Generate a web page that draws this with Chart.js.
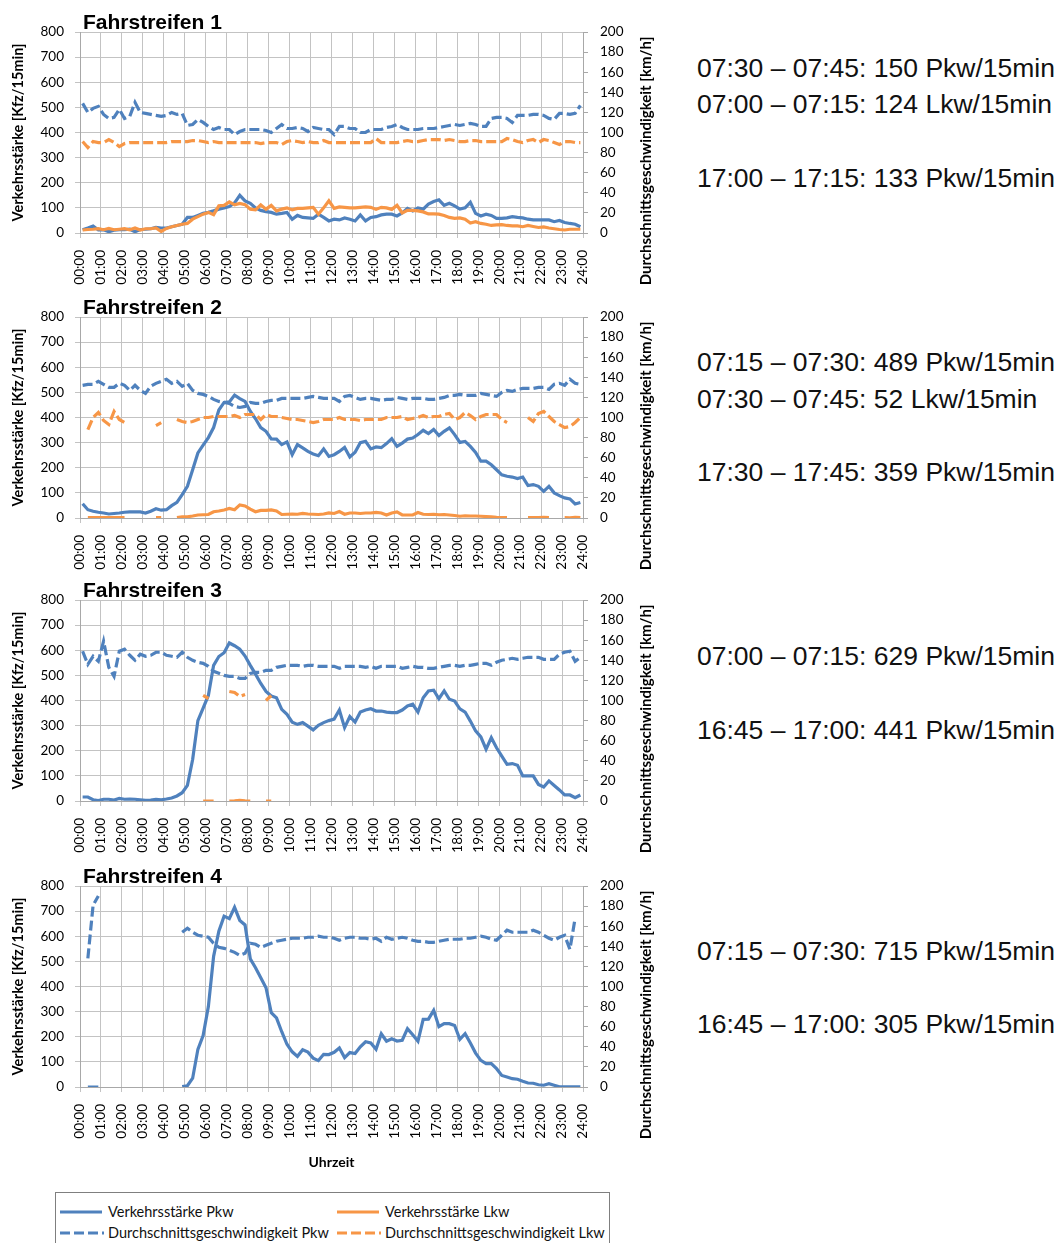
<!DOCTYPE html>
<html>
<head>
<meta charset="utf-8">
<script src="https://cdn.jsdelivr.net/npm/chart.js@4.4.1/dist/chart.umd.min.js"></script>
<style>
  body { margin: 0; width: 1061px; height: 1243px; overflow: hidden; background: #fff; position: relative; }
  canvas { position: absolute; left: 0; }
  .note { position: absolute; left: 697px; font: 26.5px "Liberation Sans", Arial, sans-serif; line-height: 30px; white-space: nowrap; color: #111; }
  #legend { position: absolute; left: 55px; top: 1192px; width: 553px; height: 70px; border: 1px solid #7f7f7f; font: 14.5px Lato, sans-serif; color: #111; }
  #legend .item { position: absolute; height: 16px; line-height: 16px; white-space: nowrap; }
  #legend svg { position: absolute; left: 0; top: 5px; }
  #legend span { position: absolute; left: 48px; }
</style>
</head>
<body>
<canvas id="c1" width="670" height="290" style="top:0px"></canvas>
<canvas id="c2" width="670" height="290" style="top:285px"></canvas>
<canvas id="c3" width="670" height="290" style="top:568px"></canvas>
<canvas id="c4" width="670" height="330" style="top:854px"></canvas>

<div class="note" style="top:53px">07:30 – 07:45: 150 Pkw/15min</div>
<div class="note" style="top:89px">07:00 – 07:15: 124 Lkw/15min</div>
<div class="note" style="top:163px">17:00 – 17:15: 133 Pkw/15min</div>
<div class="note" style="top:347px">07:15 – 07:30: 489 Pkw/15min</div>
<div class="note" style="top:384px">07:30 – 07:45: 52 Lkw/15min</div>
<div class="note" style="top:457px">17:30 – 17:45: 359 Pkw/15min</div>
<div class="note" style="top:641px">07:00 – 07:15: 629 Pkw/15min</div>
<div class="note" style="top:715px">16:45 – 17:00: 441 Pkw/15min</div>
<div class="note" style="top:936px">07:15 – 07:30: 715 Pkw/15min</div>
<div class="note" style="top:1009px">16:45 – 17:00: 305 Pkw/15min</div>

<div id="legend">
  <div class="item" style="left:4px;top:11px"><svg width="44" height="6"><line x1="0" y1="3" x2="42" y2="3" stroke="#4F81BD" stroke-width="3"/></svg><span>Verkehrsstärke Pkw</span></div>
  <div class="item" style="left:281px;top:11px"><svg width="44" height="6"><line x1="0" y1="3" x2="42" y2="3" stroke="#F79646" stroke-width="3"/></svg><span>Verkehrsstärke Lkw</span></div>
  <div class="item" style="left:4px;top:32px"><svg width="44" height="6"><line x1="0" y1="3" x2="44" y2="3" stroke="#4F81BD" stroke-width="3" stroke-dasharray="10,4"/></svg><span>Durchschnittsgeschwindigkeit Pkw</span></div>
  <div class="item" style="left:281px;top:32px"><svg width="44" height="6"><line x1="0" y1="3" x2="44" y2="3" stroke="#F79646" stroke-width="3" stroke-dasharray="10,4"/></svg><span>Durchschnittsgeschwindigkeit Lkw</span></div>
</div>

<script>
// 96 quarter-hour values per series (00:00-00:15 ... 23:45-24:00)
const hourTicks = [0, 1, 2, 3, 4, 5, 6, 7, 8, 9, 10, 11, 12, 13, 14, 15, 16, 17, 18, 19, 20, 21, 22, 23, 24];

// Fahrstreifen 1
const pkwVol1 = [13,20,28,12, 13,5,11,13, 13,15,5,14, 15,17,22,20, 20,25,30,35, 62,62,70,78,
  82,88,95,100, 105,120,150,128, 118,100,90,85, 82,75,78,82, 55,70,62,60, 58,75,62,48,
  55,52,60,55, 48,72,48,62, 65,72,75,75, 68,80,98,88, 100,95,115,125, 132,110,118,108,
  95,100,122,78, 68,75,70,58, 58,60,65,62, 60,55,52,52, 52,52,45,50, 42,38,35,25];
const lkwVol1 = [12,14,15,17, 13,18,13,15, 17,13,20,12, 17,17,20,6, 18,25,30,35, 38,55,65,75,
  82,73,108,110, 124,112,118,113, 95,92,112,95, 110,88,95,100, 92,98,98,100, 102,75,100,128,
  98,104,102,100, 100,102,104,102, 94,102,100,94, 110,80,90,90, 88,84,76,76, 75,70,62,58,
  60,55,40,45, 38,35,30,32, 33,30,28,28, 25,30,26,22, 24,20,17,14, 12,15,15,15];
const pkwSpd1 = [129,120,124,126, 118,114,115,123, 114,116,130,120, 119,118,117,116, 117,120,118,119, 107,108,113,110,
  106,103,105,103, 103,98,101,103, 103,103,103,102, 100,104,108,104, 104,105,104,101, 105,104,103,103,
  98,106,106,104, 104,100,100,103, 103,103,105,106, 108,105,103,103, 103,104,104,104, 105,106,107,108,
  107,108,109,108, 106,106,114,115, 115,114,110,117, 117,117,118,118, 117,114,113,119, 119,118,119,127];
const lkwSpd1 = [91,85,91,90, 90,93,90,86, 89,90,90,90, 90,90,90,90, 90,91,91,91, 91,92,92,91,
  90,91,90,90, 90,90,90,90, 90,90,89,90, 90,90,88,91, 92,91,90,91, 90,90,92,90,
  90,90,90,90, 90,90,90,90, 94,90,90,90, 90,91,92,91, 91,92,93,93, 93,92,93,92,
  91,91,92,92, 91,91,91,91, 91,94,93,91, 90,92,93,90, 93,92,90,88, 91,91,90,90];

// Fahrstreifen 2
const pkwVol2 = [57,33,27,23, 20,16,18,20, 23,24,24,24, 20,27,37,31, 33,49,62,93, 126,192,259,290,
  320,360,430,460, 462,489,475,464, 425,395,360,345, 315,314,292,303, 252,292,279,265, 255,248,275,245,
  252,265,281,243, 262,300,305,275, 283,280,296,316, 285,298,314,318, 332,349,336,352, 328,345,359,332,
  301,305,285,261, 226,226,212,192, 172,166,163,157, 163,129,133,126, 106,126,100,89, 80,76,56,62];
const lkwVol2 = [null,2,2,2, 2,2,2,2, 2,null,null,null, null,null,2,2, null,null,2,5, 5,8,12,13,
  14,25,28,32, 38,33,52,48, 35,25,30,30, 32,28,14,15, 16,15,18,16, 15,14,16,20,
  18,26,15,20, 20,18,20,20, 22,20,12,20, 24,12,12,12, 22,15,14,15, 13,14,12,10,
  7,9,8,8, 7,6,5,3, 2,2,null,null, null,2,2,2, 3,2,null,null, 2,1,3,2];
const pkwSpd2 = [132,133,133,136, 133,130,130,134, 132,127,132,127, 124,131,134,136, 138,134,136,131, 134,127,124,123,
  121,118,116,115, 114,111,110,111, 115,114,114,116, 117,117,119,119, 119,119,119,120, 121,120,119,119,
  119,116,121,122, 120,118,119,119, 118,117,118,118, 120,119,118,119, 119,119,118,118, 119,120,122,122,
  123,122,122,122, 124,123,122,121, 125,127,126,128, 129,129,129,130, 130,128,133,134, 132,138,134,133];
const lkwSpd2 = [null,88,100,105, 97,93,106,98, 95,null,null,null, null,null,92,95, null,null,98,96, 95,96,98,100,
  100,101,101,101, 101,102,100,103, 103,103,98,103, 101,101,100,99, 98,98,97,96, 95,96,98,98,
  98,100,98,98, 98,97,98,98, 98,98,100,100, 100,101,98,99, 100,102,100,101, 101,103,104,98,
  100,105,102,98, 101,103,103,103, 98,95,null,null, null,100,96,104, 106,101,96,93, 90,91,95,100];

// Fahrstreifen 3
const pkwVol3 = [16,16,5,2, 7,7,4,10, 7,8,7,5, 3,4,7,5, 8,12,20,33, 62,165,320,370,
  420,540,575,590, 629,618,604,577, 540,505,468,436, 418,411,365,345, 314,305,312,298, 283,301,312,320,
  326,362,292,336, 314,354,362,367, 358,358,354,352, 352,362,378,385, 354,411,438,441, 407,438,405,398,
  367,354,318,279, 255,206,252,212, 179,146,149,142, 100,100,100,66, 56,80,62,44, 24,24,13,24];
const lkwVol3 = [null,null,null,null, null,null,null,null, null,null,null,null, null,null,null,null, null,null,null,null, null,null,null,0,
  0,0,null,null, 0,1,3,1, 0,null,null,0, 0,null,null,null, null,null,null,null, null,null,null,null,
  null,null,null,null, null,null,null,null, null,null,null,null, null,null,null,null, null,null,null,null, null,null,null,null,
  null,null,null,null, null,null,null,null, null,null,null,null, null,null,null,null, null,null,null,null, null,null,null,null];
const pkwSpd3 = [149,136,144,139, 159,133,124,149, 151,145,140,146, 144,145,148,148, 145,144,143,148, 143,140,138,137,
  134,129,127,125, 124,124,122,122, 127,128,128,130, 130,133,134,135, 135,135,134,135, 135,134,134,134,
  134,132,134,134, 134,134,133,134, 132,134,134,134, 134,132,133,134, 133,133,132,132, 133,134,135,135,
  134,135,135,136, 137,137,135,138, 140,141,142,141, 142,143,143,143, 141,141,141,146, 148,149,139,143];
const lkwSpd3 = [null,null,null,null, null,null,null,null, null,null,null,null, null,null,null,null, null,null,null,null, null,null,null,105,
  102,null,null,null, 109,108,104,106, null,null,null,100, 105,null,null,null, null,null,null,null, null,null,null,null,
  null,null,null,null, null,null,null,null, null,null,null,null, null,null,null,null, null,null,null,null, null,null,null,null,
  null,null,null,null, null,null,null,null, null,null,null,null, null,null,null,null, null,null,null,null, null,null,null,null];

// Fahrstreifen 4 (no Lkw values)
const pkwVol4 = [null,0,0,0, null,null,null,null, null,null,null,null, null,null,null,null, null,null,null,2, 5,35,150,205,
  320,520,620,680, 670,715,663,645, 510,475,435,395, 296,275,220,170, 140,122,148,139, 115,105,130,129,
  138,155,117,137, 133,160,180,175, 150,212,182,192, 183,186,232,208, 182,269,270,305, 240,252,252,245,
  190,212,175,135, 106,93,93,73, 46,40,33,31, 23,16,15,9, 7,13,7,1, 1,1,1,1];
const pkwSpd4 = [null,128,181,190, null,null,null,null, null,null,null,null, null,null,null,null, null,null,null,154, 158,154,151,150,
  149,143,139,138, 136,134,131,133, 143,142,139,141, 143,145,146,147, 148,148,148,149, 149,150,149,149,
  148,146,148,149, 149,148,148,147, 148,145,149,147, 148,149,148,146, 145,145,144,144, 145,146,147,147,
  147,148,148,149, 150,149,147,146, 151,156,154,154, 154,154,156,154, 151,148,146,149, 151,137,168,null];

const BLUE = "#4F81BD";
const ORANGE = "#F79646";
const GRID = "#c3c3c3";
const AXIS = "#a8a8a8";
const TICK_FONT = { family: "Lato, sans-serif", size: 13.5 };

function pts(arr) {
    // each value sits in the middle of its quarter hour
    return arr.map((v, i) => ({ x: i * 0.25 + 0.125, y: v }));
}

function hh(v) {
    return (v < 10 ? "0" : "") + v + ":00";
}

const panelText = {
    id: "panelText",
    afterDraw(chart, args, opts) {
        const ctx = chart.ctx;
        const area = chart.chartArea;
        ctx.save();
        ctx.fillStyle = "#000";
        ctx.font = 'bold 21px "Liberation Sans", Arial, sans-serif';
        ctx.textAlign = "left";
        ctx.textBaseline = "alphabetic";
        ctx.fillText(opts.title, area.left + 3, 29);

        ctx.font = "bold 14.5px Lato, sans-serif";
        ctx.textAlign = "center";
        ctx.textBaseline = "middle";
        ctx.save();
        ctx.translate(18, (area.top + area.bottom) / 2);
        ctx.rotate(-Math.PI / 2);
        ctx.fillText("Verkehrsstärke [Kfz/15min]", 0, 0);
        ctx.restore();
        ctx.save();
        ctx.translate(646, 161);
        ctx.rotate(-Math.PI / 2);
        ctx.font = "bold 15px Lato, sans-serif";
        ctx.fillText("Durchschnittsgeschwindigkeit [km/h]", 0, 0);
        ctx.restore();
        if (opts.xTitle) {
            ctx.font = "bold 14px Lato, sans-serif";
            ctx.fillText(opts.xTitle, (area.left + area.right) / 2, 308);
        }
        ctx.restore();
    },
};

function makePanel(id, title, pkwVol, lkwVol, pkwSpd, lkwSpd, xTitle) {
    const canvas = document.getElementById(id);
    const H = canvas.height;
    const W = canvas.width;
    const datasets = [
        { label: "Verkehrsstärke Pkw", data: pts(pkwVol), yAxisID: "y", borderColor: BLUE, order: 4 },
    ];
    if (lkwVol) {
        datasets.push({ label: "Verkehrsstärke Lkw", data: pts(lkwVol), yAxisID: "y", borderColor: ORANGE, order: 3 });
    }
    datasets.push({ label: "Durchschnittsgeschwindigkeit Pkw", data: pts(pkwSpd), yAxisID: "y1", borderColor: BLUE, borderDash: [10, 4], order: 2 });
    if (lkwSpd) {
        datasets.push({ label: "Durchschnittsgeschwindigkeit Lkw", data: pts(lkwSpd), yAxisID: "y1", borderColor: ORANGE, borderDash: [10, 4], order: 1 });
    }
    datasets.forEach((d) => {
        d.borderWidth = 3.2;
        d.pointRadius = 0;
        d.tension = 0;
        d.fill = false;
        d.spanGaps = false;
    });

    new Chart(canvas, {
        type: "line",
        data: { datasets: datasets },
        options: {
            responsive: false,
            animation: false,
            devicePixelRatio: 1,
            layout: { padding: { top: 32, left: 0, right: 0, bottom: 0 } },
            scales: {
                x: {
                    type: "linear",
                    min: 0,
                    max: 24,
                    afterBuildTicks: (s) => { s.ticks = hourTicks.map((v) => ({ value: v })); },
                    afterFit: (s) => { s.height = H - 233; },
                    ticks: {
                        autoSkip: false,
                        minRotation: 90,
                        maxRotation: 90,
                        padding: 12,
                        color: "#000",
                        font: TICK_FONT,
                        callback: (v) => hh(v),
                    },
                    grid: { color: GRID, tickLength: 5 },
                    border: { color: AXIS },
                },
                y: {
                    position: "left",
                    min: 0,
                    max: 800,
                    afterFit: (s) => { s.width = 80; },
                    ticks: { stepSize: 100, padding: 11, color: "#000", font: TICK_FONT },
                    grid: { color: GRID, tickLength: 5 },
                    border: { color: AXIS },
                },
                y1: {
                    position: "right",
                    min: 0,
                    max: 200,
                    afterFit: (s) => { s.width = W - 583; },
                    ticks: { stepSize: 20, padding: 12, color: "#000", font: TICK_FONT },
                    grid: { drawOnChartArea: false, color: AXIS, tickLength: 5 },
                    border: { color: AXIS },
                },
            },
            plugins: {
                legend: { display: false },
                tooltip: { enabled: false },
                panelText: { title: title, xTitle: xTitle },
            },
        },
        plugins: [panelText],
    });
}

makePanel("c1", "Fahrstreifen 1", pkwVol1, lkwVol1, pkwSpd1, lkwSpd1, null);
makePanel("c2", "Fahrstreifen 2", pkwVol2, lkwVol2, pkwSpd2, lkwSpd2, null);
makePanel("c3", "Fahrstreifen 3", pkwVol3, lkwVol3, pkwSpd3, lkwSpd3, null);
makePanel("c4", "Fahrstreifen 4", pkwVol4, null, pkwSpd4, null, "Uhrzeit");
</script>
</body>
</html>
